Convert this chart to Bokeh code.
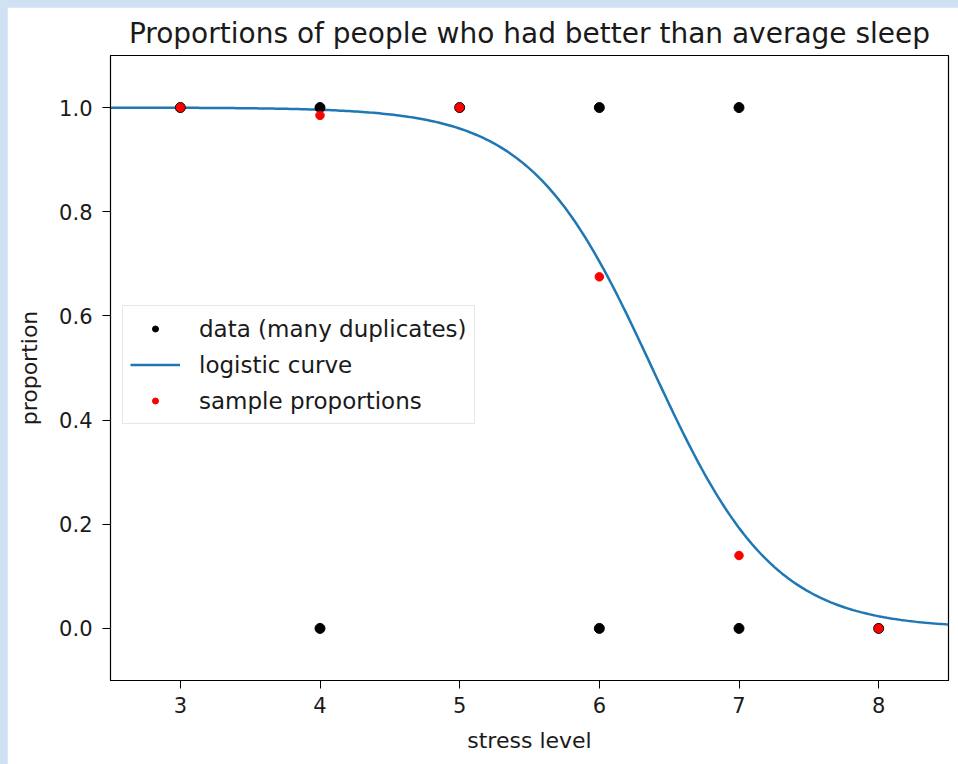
import numpy as np
from bokeh.plotting import figure
from bokeh.models import Range1d, FixedTicker, PrintfTickFormatter, Legend, LegendItem
from bokeh.embed import file_html
from bokeh.resources import INLINE

# Observations: stress level vs. better-than-average sleep (1) or not (0)
data_stress = [3, 4, 5, 6, 7, 4, 6, 7, 8]
data_sleep = [1, 1, 1, 1, 1, 0, 0, 0, 0]

# Share of people at each stress level with better-than-average sleep
levels = [3, 4, 5, 6, 7, 8]
sample_props = [1.0, 0.985, 1.0, 0.675, 0.14, 0.0]

# Fitted logistic model: p = 1 / (1 + exp(-(intercept + slope * x)))
intercept = 14.67
slope = -2.3

x_ticks = [3, 4, 5, 6, 7, 8]
y_ticks = [0.0, 0.2, 0.4, 0.6, 0.8, 1.0]

FONT = "DejaVu Sans"
TEXT = "#1a1a1a"

curve_x = np.linspace(2.5, 8.5, 300)
curve_y = 1.0 / (1.0 + np.exp(-(intercept + slope * curve_x)))

p = figure(
    width=951, height=757,
    x_range=Range1d(2.5, 8.5), y_range=Range1d(-0.1, 1.1),
    output_backend="svg", toolbar_location=None,
    min_border_left=103, min_border_right=10,
    min_border_top=48, min_border_bottom=84,
    title="Proportions of people who had better than average sleep",
)
p.margin = (7, 0, 0, 7)
p.background_fill_color = "white"
p.border_fill_color = "white"
p.outline_line_color = "black"
p.outline_line_width = 1.2
p.xgrid.visible = False
p.ygrid.visible = False

p.title.text_font = FONT
p.title.text_font_size = "28px"
p.title.text_font_style = "normal"
p.title.text_color = TEXT
p.title.align = "center"
p.title.standoff = 11

for ax in (p.xaxis[0], p.yaxis[0]):
    ax.major_tick_in = 0
    ax.major_tick_out = 8
    ax.minor_tick_line_color = None
    ax.major_tick_line_color = "black"
    ax.axis_line_color = "black"
    ax.major_label_text_font = FONT
    ax.major_label_text_font_size = "21px"
    ax.major_label_text_color = TEXT
    ax.axis_label_text_font = FONT
    ax.axis_label_text_font_size = "22px"
    ax.axis_label_text_font_style = "normal"
    ax.axis_label_text_color = TEXT

p.xaxis.ticker = FixedTicker(ticks=x_ticks)
p.yaxis.ticker = FixedTicker(ticks=y_ticks)
p.yaxis.formatter = PrintfTickFormatter(format="%.1f")
p.xaxis.axis_label = "stress level"
p.yaxis.axis_label = "proportion"
p.xaxis.major_label_standoff = 8
p.yaxis.major_label_standoff = 10
p.xaxis.axis_label_standoff = 12
p.yaxis.axis_label_standoff = 14

r_line = p.line(curve_x, curve_y, line_color="#1f77b4", line_width=2.5)
r_data = p.scatter(data_stress, data_sleep, size=10, fill_color="black", line_color="black")
r_prop = p.scatter(levels, sample_props, size=8.5, fill_color="red", line_color="red")

legend = Legend(
    items=[
        LegendItem(label="data (many duplicates)", renderers=[r_data]),
        LegendItem(label="logistic curve", renderers=[r_line]),
        LegendItem(label="sample proportions", renderers=[r_prop]),
    ],
    location=(12, 256),
    label_text_font=FONT,
    label_text_font_size="23px",
    label_text_color=TEXT,
    glyph_width=50,
    glyph_height=15,
    label_height=31,
    label_standoff=19,
    spacing=5,
    padding=7,
    margin=0,
    border_line_color="#d0d0d0",
    border_line_width=1,
    background_fill_color="white",
    background_fill_alpha=0.8,
)
p.add_layout(legend)

html = file_html(p, INLINE)
html = html.replace(
    "</head>",
    "<style>html, body { margin: 0; padding: 0; background: #cfe2f3; }</style></head>",
    1,
)
open("out.html", "w").write(html)
